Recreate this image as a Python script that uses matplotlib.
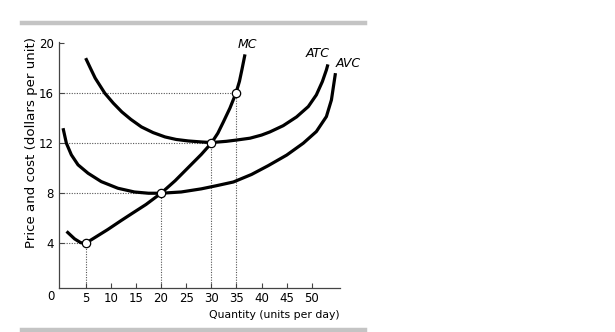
import matplotlib
matplotlib.use('Agg')
import matplotlib.pyplot as plt
from matplotlib.lines import Line2D

'''
cost curves read off the picture
'''
mc_q = [1.2, 2.8, 4.0, 5.0, 7.0, 9.4, 12.0, 14.1, 17.0, 20.0, 22.8, 25.4, 28.0, 30.0,
        31.3, 32.4, 33.7, 34.9, 35.6, 36.1, 36.7]
mc_c = [4.95, 4.35, 4.05, 4.0, 4.5, 5.1, 5.8, 6.35, 7.1, 8.0, 9.0, 10.05, 11.1, 12.0,
        12.8, 13.7, 14.8, 16.0, 16.95, 17.9, 19.1]

atc_q = [5.0, 6.0, 6.9, 8.8, 10.5, 12.2, 14.0, 16.1, 18.4, 20.8, 23.0, 25.4, 28.0, 30.0,
         33.0, 35.0, 37.7, 40.0, 41.65, 44.3, 46.96, 49.3, 50.9, 52.1, 52.9, 53.2]
atc_c = [18.8, 17.95, 17.2, 16.0, 15.2, 14.5, 13.9, 13.3, 12.85, 12.5, 12.3, 12.18, 12.1, 12.05,
         12.15, 12.25, 12.4, 12.65, 12.9, 13.4, 14.1, 14.93, 15.86, 16.93, 17.86, 18.3]

avc_q = [0.5, 1.16, 2.15, 3.48, 5.47, 8.1, 11.4, 14.7, 17.5, 20.0, 24.0, 28.0, 31.0, 34.4,
         38.0, 41.3, 45.0, 48.3, 50.9, 52.9, 53.9, 54.4, 54.7]
avc_c = [13.2, 12.0, 11.07, 10.27, 9.6, 8.93, 8.4, 8.1, 8.0, 8.0, 8.1, 8.35, 8.6, 8.9,
         9.5, 10.2, 11.05, 12.0, 12.93, 14.13, 15.46, 16.8, 17.6]

marked_q = [5, 20, 30, 35]
marked_c = [4, 8, 12, 16]

x_ticks = [5, 10, 15, 20, 25, 30, 35, 40, 45, 50]
y_ticks = [4, 8, 12, 16, 20]

fig = plt.figure(figsize=(6.15, 3.32), dpi=100)
ax = fig.add_axes([0.0964, 0.1316, 0.4564, 0.7404])

# dotted guide lines
for q, c in zip(marked_q, marked_c):
    ax.plot([0, q], [c, c], color='#555555', lw=0.8, linestyle=(0, (1, 1.3)), zorder=1)
    ax.plot([q, q], [0, c], color='#555555', lw=0.8, linestyle=(0, (1, 1.3)), zorder=1)

for qs, cs in [(mc_q, mc_c), (atc_q, atc_c), (avc_q, avc_c)]:
    ax.plot(qs, cs, color='black', lw=2.3, solid_capstyle='butt', solid_joinstyle='round', zorder=2)

ax.plot(marked_q, marked_c, 'o', ms=6, mfc='white', mec='black', mew=0.9, zorder=3)

ax.text(37.2, 19.9, 'MC', style='italic', fontsize=9, ha='center', va='center')
ax.text(51.2, 19.2, 'ATC', style='italic', fontsize=9, ha='center', va='center')
ax.text(57.2, 18.4, 'AVC', style='italic', fontsize=9, ha='center', va='center')

ax.set_xlim(-0.25, 55.6)
ax.set_ylim(0.4, 20.05)
ax.set_xticks(x_ticks)
ax.set_yticks(y_ticks)
ax.tick_params(direction='in', length=3.5, width=0.8, color='#444444', labelsize=8.5, pad=4)
ax.tick_params(axis='x', pad=3)
for s in ['top', 'right']:
    ax.spines[s].set_visible(False)
for s in ['left', 'bottom']:
    ax.spines[s].set_color('#444444')
    ax.spines[s].set_linewidth(0.9)

fig.text(50.7 / 615, 1 - 297 / 332, '0', fontsize=8.5, ha='center', va='center')
fig.text(340 / 615, 1 - 315 / 332, 'Quantity (units per day)', fontsize=7.8, ha='right', va='center')
fig.text(31.5 / 615, 1 - 143 / 332, 'Price and cost (dollars per unit)', fontsize=9.6,
         rotation=90, ha='center', va='center')

# grey bars above and below
for yb in [23, 330]:
    fig.add_artist(Line2D([22 / 615, 365 / 615], [1 - yb / 332, 1 - yb / 332],
                          color='#c4c4c4', lw=3.2, transform=fig.transFigure))

fig.savefig('out.png', dpi=100)
